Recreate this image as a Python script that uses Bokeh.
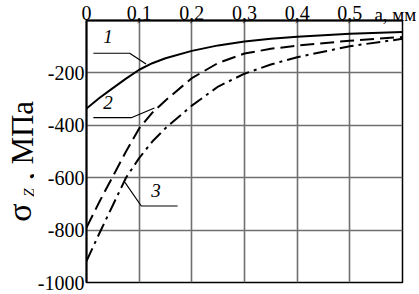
from bokeh.plotting import figure
from bokeh.models import Range1d, FixedTicker, Label
from bokeh.layouts import row
from bokeh.embed import file_html
from bokeh.resources import INLINE
from math import pi

# data
a_mm = [0, 0.025, 0.05, 0.075, 0.1, 0.125, 0.15, 0.2, 0.25, 0.3, 0.35, 0.4, 0.5, 0.6]
sigma_1 = [-336, -295, -258, -222, -188, -163, -144, -116, -95, -80, -70, -62, -51, -44]
sigma_2 = [-790, -690, -595, -500, -412, -352, -305, -220, -162, -126, -108, -96, -77, -63]
sigma_3 = [-918, -810, -705, -600, -525, -462, -411, -325, -252, -203, -168, -140, -98, -70]

x_ticks = [0, 0.1, 0.2, 0.3, 0.4, 0.5, 0.6]
x_tick_labels = ["0", "0,1", "0,2", "0,3", "0,4", "0,5", ""]
y_ticks = [-1000, -800, -600, -400, -200, 0]
y_tick_labels = ["-1000", "-800", "-600", "-400", "-200", ""]
x_title = "a, мм"

curve_names = ["1", "2", "3"]
name_pos = [(0.041, -62), (0.041, -312), (0.132, -649)]
leader_x = [[0.013, 0.082, 0.113], [0.013, 0.085, 0.129], [0.073, 0.104, 0.173]]
leader_y = [[-125, -125, -166], [-371, -371, -334], [-618, -708, -708]]

FONT = "Liberation Serif"
W, H = 419, 294
LEFT_W = 34
TOP, BOTTOM = 20, 12

# ---- narrow strip on the left holding the rotated y title ----
lt = figure(width=LEFT_W, height=H, output_backend="svg", toolbar_location=None,
            x_range=Range1d(0, LEFT_W), y_range=Range1d(BOTTOM, H - TOP),
            x_axis_type=None, y_axis_type=None, min_border=0)
lt.outline_line_color = None
lt.grid.visible = False
lt.title.visible = False
lt.add_layout(Label(x=18.6, y=H - 212, text="σ", angle=pi / 2, text_font=FONT,
                    text_font_size="34px", text_align="center",
                    text_baseline="middle", text_color="black"))
lt.add_layout(Label(x=28.5, y=H - 192, text="Z", angle=pi / 2, text_font=FONT,
                    text_font_size="15px", text_font_style="italic", text_align="center",
                    text_baseline="middle", text_color="black"))
lt.add_layout(Label(x=21.5, y=H - 140, text=", МПа", angle=pi / 2, text_font=FONT,
                    text_font_size="31px", text_align="center",
                    text_baseline="middle", text_color="black"))

# ---- main chart ----
p = figure(width=W - LEFT_W, height=H, output_backend="svg", toolbar_location=None,
           x_range=Range1d(0, 0.6), y_range=Range1d(-1000, 0),
           x_axis_location="above", min_border_left=83 - LEFT_W, min_border_right=17,
           min_border_top=TOP, min_border_bottom=BOTTOM)
p.background_fill_color = "white"
p.border_fill_color = "white"
p.outline_line_color = "black"
p.outline_line_width = 1.5
p.outline_line_alpha = 1

xa = p.xaxis[0]
xa.ticker = FixedTicker(ticks=x_ticks)
ya = p.yaxis[0]
ya.ticker = FixedTicker(ticks=y_ticks)
ya.major_label_overrides = {t: l for t, l in zip(y_ticks, y_tick_labels)}

overrides = {t: l for t, l in zip(x_ticks, x_tick_labels)}
placed = False
if "axis_label_align" in xa.properties():
    for al in ("end", "right"):
        try:
            xa.axis_label_align = al
            placed = True
            break
        except Exception:
            pass
if placed:
    xa.axis_label = x_title + "\u00a0\u00a0\u00a0"
    xa.axis_label_standoff = -22
    xa.axis_label_text_font = FONT
    xa.axis_label_text_font_size = "19px"
    xa.axis_label_text_font_style = "normal"
    xa.axis_label_text_color = "black"
else:
    overrides[0.6] = x_title + "\u00a0" * 6
xa.major_label_overrides = overrides

for ax in (xa, ya):
    ax.axis_line_color = "black"
    ax.axis_line_width = 2
    ax.major_tick_out = 0
    ax.major_tick_in = 0
    ax.minor_tick_out = 0
    ax.minor_tick_in = 0
    ax.major_label_text_font = FONT
    ax.major_label_text_font_size = "20px"
    ax.major_label_text_color = "black"
xa.major_label_standoff = 1
ya.major_label_standoff = 2

p.xgrid.ticker = FixedTicker(ticks=x_ticks)
p.ygrid.ticker = FixedTicker(ticks=y_ticks)
for g in (p.xgrid, p.ygrid):
    g.grid_line_color = "#6f6f6f"
    g.grid_line_width = 1.6
    g.grid_line_alpha = 1

p.line(a_mm, sigma_1, line_color="black", line_width=2)
p.line(a_mm, sigma_2, line_color="black", line_width=2, line_dash="14 6")
p.line(a_mm, sigma_3, line_color="black", line_width=2, line_dash="14 5 3 5")

for name, (lx, ly), xs, ys in zip(curve_names, name_pos, leader_x, leader_y):
    p.line(xs, ys, line_color="black", line_width=1.2)
    p.add_layout(Label(x=lx, y=ly, text=name, text_font=FONT, text_font_size="19px",
                       text_font_style="italic", text_align="center",
                       text_baseline="middle", text_color="black"))

layout = row(lt, p, spacing=0)
open("out.html", "w").write(file_html(layout, INLINE))
